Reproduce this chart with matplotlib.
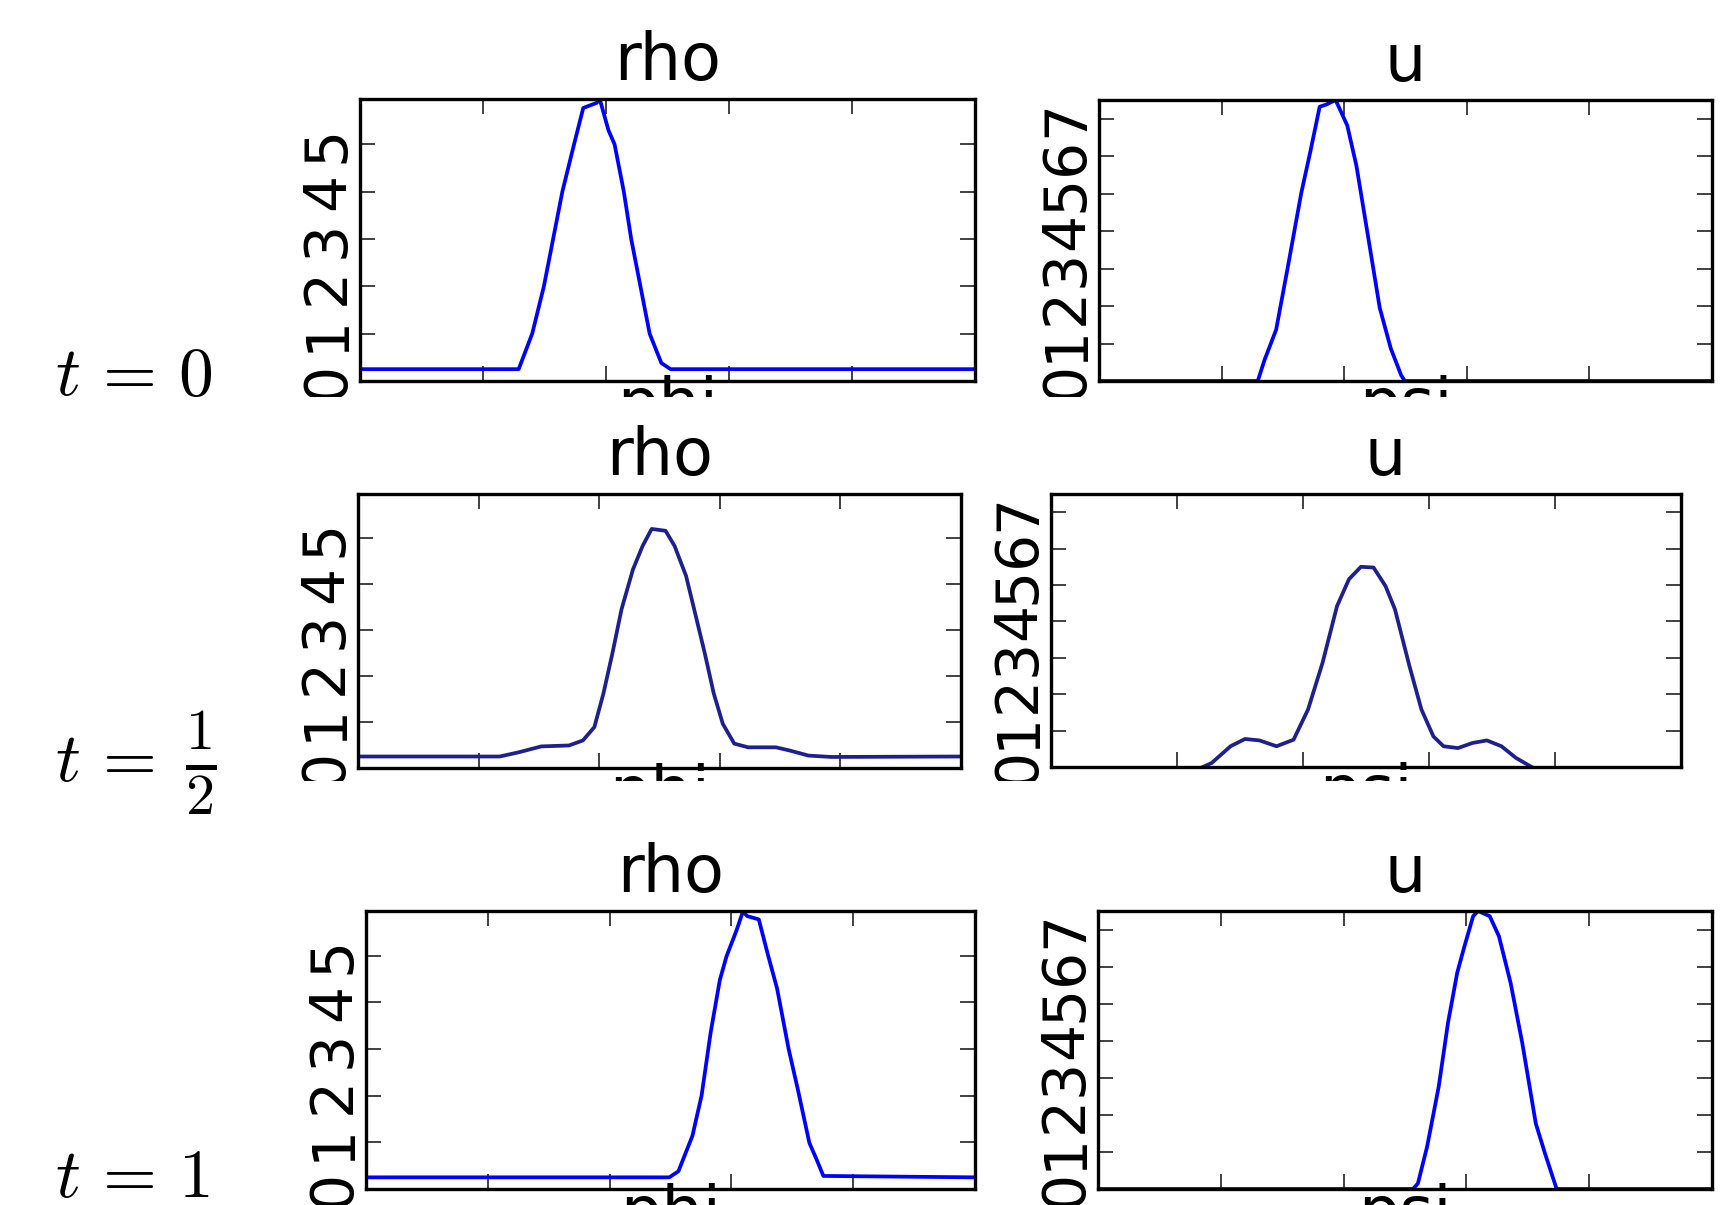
import matplotlib
matplotlib.use("Agg")
import matplotlib.pyplot as plt
from matplotlib.transforms import Bbox, TransformedBbox

plt.rcParams["mathtext.fontset"] = "cm"
plt.rcParams["font.family"] = ["DejaVu Sans"]

W, H = 1721, 1205

# --- data (x as a fraction of the domain) ---
row_labels = [r"$t\,=\,0$", r"$t\,=$", r"$t\,=\,1$"]
half_label = r"$\frac{1}{2}$"

rho0_x = [0.0, 0.258, 0.280, 0.299, 0.314, 0.329, 0.348, 0.363, 0.385, 0.390,
          0.404, 0.414, 0.429, 0.441, 0.456, 0.471, 0.490, 0.505, 1.0]
rho0_y = [0.25, 0.25, 1.0, 2.0, 3.0, 4.0, 5.0, 5.77, 5.88, 5.95,
          5.3, 5.0, 4.0, 3.0, 2.0, 1.0, 0.38, 0.25, 0.25]

u0_x = [0.0, 0.259, 0.270, 0.289, 0.308, 0.330, 0.345, 0.360, 0.371, 0.386,
        0.405, 0.420, 0.439, 0.458, 0.476, 0.493, 0.499, 1.0]
u0_y = [0.0, 0.0, 0.56, 1.37, 3.04, 5.02, 6.14, 7.32, 7.38, 7.5,
        6.82, 5.74, 3.85, 1.95, 0.87, 0.15, 0.0, 0.0]

rho_half_x = [0.0, 0.235, 0.266, 0.304, 0.350, 0.373, 0.392, 0.407, 0.422, 0.437,
              0.456, 0.472, 0.487, 0.510, 0.525, 0.544, 0.559, 0.575, 0.590, 0.605,
              0.624, 0.647, 0.693, 0.716, 0.747, 0.785, 1.0]
rho_half_y = [0.25, 0.25, 0.34, 0.47, 0.49, 0.60, 0.89, 1.62, 2.50, 3.45,
              4.32, 4.83, 5.20, 5.16, 4.83, 4.18, 3.37, 2.50, 1.62, 0.96,
              0.53, 0.45, 0.45, 0.38, 0.27, 0.24, 0.25]

u_half_x = [0.0, 0.232, 0.255, 0.285, 0.308, 0.331, 0.358, 0.385, 0.408, 0.431,
            0.454, 0.473, 0.492, 0.512, 0.531, 0.546, 0.569, 0.588, 0.607, 0.623,
            0.646, 0.669, 0.692, 0.715, 0.738, 0.761, 0.776, 1.0]
u_half_y = [-0.3, -0.07, 0.11, 0.57, 0.77, 0.73, 0.57, 0.75, 1.58, 2.86,
            4.42, 5.16, 5.50, 5.48, 4.97, 4.33, 2.77, 1.58, 0.84, 0.57,
            0.52, 0.66, 0.73, 0.57, 0.25, 0.02, -0.12, -0.3]

rho1_x = [0.0, 0.498, 0.513, 0.536, 0.551, 0.566, 0.581, 0.592, 0.608, 0.619,
          0.626, 0.645, 0.660, 0.675, 0.694, 0.709, 0.728, 0.740, 0.751, 1.0]
rho1_y = [0.25, 0.25, 0.38, 1.14, 2.0, 3.36, 4.48, 4.99, 5.53, 5.95,
          5.85, 5.78, 5.02, 4.3, 3.0, 2.14, 0.99, 0.63, 0.28, 0.25]

u1_x = [0.0, 0.513, 0.521, 0.536, 0.555, 0.570, 0.585, 0.596, 0.611, 0.619,
        0.638, 0.653, 0.672, 0.691, 0.713, 0.728, 0.747, 1.0]
u1_y = [0.0, 0.0, 0.15, 1.14, 2.77, 4.48, 5.83, 6.5, 7.36, 7.5,
        7.36, 6.82, 5.56, 3.94, 1.77, 0.96, 0.0, 0.0]

rho_ticks = [0, 1, 2, 3, 4, 5]
u_ticks = [0, 1, 2, 3, 4, 5, 6, 7]
x_ticks = [0.2, 0.4, 0.6, 0.8]

# axes boxes in pixels (x0, y0, x1, y1) and crop line under each row
boxes = [
    [(360, 99, 975, 381), (1099, 100, 1712, 381)],
    [(358, 494, 961, 768), (1051, 494, 1681, 767)],
    [(366, 911, 975, 1189), (1098, 911, 1712, 1189)],
]
title_x = [[0.5, 0.5], [0.5, 0.53], [0.5, 0.5]]
crop_y = [397, 781, 1205]
label_pos = [(55, 395), (55, 781), (55, 1197)]
line_colors = ["#0000ff", "#1f1f8f", "#0000ff"]

series = [
    [(rho0_x, rho0_y), (u0_x, u0_y)],
    [(rho_half_x, rho_half_y), (u_half_x, u_half_y)],
    [(rho1_x, rho1_y), (u1_x, u1_y)],
]


def px_axes(fig, box):
    x0, y0, x1, y1 = box
    return fig.add_axes([x0 / W, 1 - y1 / H, (x1 - x0) / W, (y1 - y0) / H])


def crop_box(fig, y_bottom):
    bb = Bbox([[0, 1 - y_bottom / H], [1, 1]])
    return TransformedBbox(bb, fig.transFigure)


def style_axes(ax, title, xlabel, yticks, ytop, clip):
    ax.set_xlim(0, 1)
    ax.set_ylim(0, ytop)
    ax.set_xticks(x_ticks)
    ax.set_xticklabels([])
    ax.set_yticks(yticks)
    ax.set_yticklabels([str(t) for t in yticks])
    ax.tick_params(direction="in", length=11, width=1.3, color="#333333",
                   top=True, right=True, labelsize=42, pad=3)
    for lbl in ax.get_yticklabels():
        lbl.set_rotation(90)
        lbl.set_va("center")
        lbl.set_clip_box(clip)
        lbl.set_clip_on(True)
    for sp in ax.spines.values():
        sp.set_linewidth(2.4)
    ax.set_title(title, fontsize=47, pad=14)
    ax.set_xlabel(xlabel, fontsize=47)
    ax.xaxis.set_label_coords(0.5, 0.02)
    ax.xaxis.label.set_va("top")
    ax.xaxis.label.set_clip_box(clip)
    ax.xaxis.label.set_clip_on(True)


fig = plt.figure(figsize=(W / 100, H / 100), dpi=100)

for r in range(3):
    clip = crop_box(fig, crop_y[r])
    for c in range(2):
        ax = px_axes(fig, boxes[r][c])
        x, y = series[r][c]
        ax.plot(x, y, color=line_colors[r], lw=2.7)
        if c == 0:
            style_axes(ax, "rho", "phi", rho_ticks, 5.96, clip)
        else:
            style_axes(ax, "u", "psi", u_ticks, 7.5, clip)
        ax.title.set_x(title_x[r][c])
    lx, ly = label_pos[r]
    fig.text(lx / W, 1 - ly / H, row_labels[r], fontsize=50,
             ha="left", va="baseline")

# the 1/2 of the middle row label is set a little larger, as in the reference
fig.text(201 / W, 1 - 781 / H, half_label, fontsize=60,
         ha="center", va="baseline")

fig.savefig("out.png", dpi=100)
